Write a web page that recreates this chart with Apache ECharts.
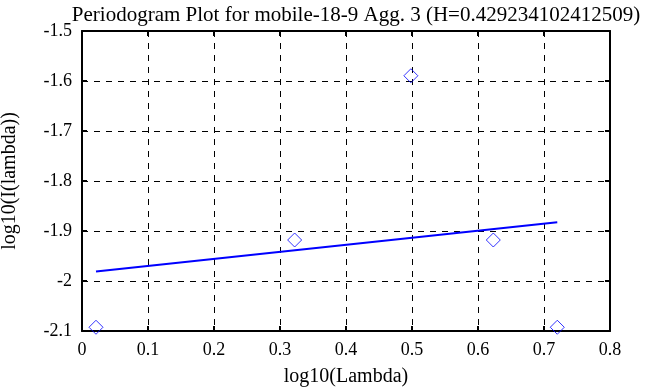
<!DOCTYPE html>
<html>
<head>
<meta charset="utf-8">
<script src="https://cdn.jsdelivr.net/npm/echarts@6/dist/echarts.min.js"></script>
<style>html,body{margin:0;padding:0;background:#fff}#c{width:658px;height:387px}</style>
</head>
<body>
<div id="c"></div>
<script>
var titleText = 'Periodogram Plot for mobile-18-9 Agg. 3 (H=0.429234102412509)';
var pointX = [0.0212, 0.3222, 0.4983, 0.6232, 0.7201];
var pointY = [-2.0925, -1.9180, -1.5895, -1.9180, -2.0925];
var fitX = [0.0212, 0.7201];
var fitY = [-1.9810, -1.8823];
var xTicks = {min: 0, max: 0.8, step: 0.1};
var yTicks = {min: -2.1, max: -1.5, step: 0.1};

var font = 'Liberation Serif';
var chart = echarts.init(document.getElementById('c'));
function axisCommon(show) {
  return {
    axisLine: {show: true, onZero: false, lineStyle: {color: '#000', width: 2}},
    axisTick: {show: true, inside: true, length: 5, lineStyle: {color: '#000', width: 2}},
    axisLabel: {show: show, color: '#000', fontFamily: font, fontSize: 18},
    splitLine: {show: false}
  };
}
var xMain = Object.assign(axisCommon(true), {
  type: 'value', position: 'bottom', min: xTicks.min, max: xTicks.max, interval: xTicks.step,
  name: 'log10(Lambda)', nameLocation: 'middle', nameGap: 36,
  nameTextStyle: {color: '#000', fontFamily: font, fontSize: 20},
  splitLine: {show: true, lineStyle: {color: '#000', width: 1, type: [6, 6]}}
});
xMain.axisLabel.margin = 10;
var xTop = Object.assign(axisCommon(false), {
  type: 'value', position: 'top', min: xTicks.min, max: xTicks.max, interval: xTicks.step
});
var yMain = Object.assign(axisCommon(true), {
  type: 'value', position: 'left', min: yTicks.min, max: yTicks.max, interval: yTicks.step,
  name: 'log10(I(lambda))', nameLocation: 'middle', nameGap: 62, nameRotate: 90,
  nameTextStyle: {color: '#000', fontFamily: font, fontSize: 20},
  splitLine: {show: true, lineStyle: {color: '#000', width: 1, type: [6, 6]}}
});
yMain.axisLabel.margin = 10;
var yRight = Object.assign(axisCommon(false), {
  type: 'value', position: 'right', min: yTicks.min, max: yTicks.max, interval: yTicks.step
});

chart.setOption({
  animation: false,
  backgroundColor: '#fff',
  title: {
    text: titleText, left: 351, textAlign: 'center', top: 0,
    textStyle: {color: '#000', fontFamily: font, fontSize: 21, fontWeight: 'normal'}
  },
  grid: {left: 82, right: 48, top: 31, bottom: 56, outerBoundsMode: 'none', containLabel: false},
  xAxis: [xMain, xTop],
  yAxis: [yMain, yRight],
  series: [
    {
      type: 'scatter', xAxisIndex: 0, yAxisIndex: 0,
      data: pointX.map(function (x, i) { return [x, pointY[i]]; }),
      symbol: 'diamond', symbolSize: [14, 14],
      itemStyle: {color: 'rgba(0,0,0,0)', borderColor: '#0000ff', borderWidth: 1}
    },
    {
      type: 'line', xAxisIndex: 0, yAxisIndex: 0,
      data: fitX.map(function (x, i) { return [x, fitY[i]]; }),
      symbol: 'none', lineStyle: {color: '#0000ff', width: 2}
    }
  ]
});
</script>
</body>
</html>
